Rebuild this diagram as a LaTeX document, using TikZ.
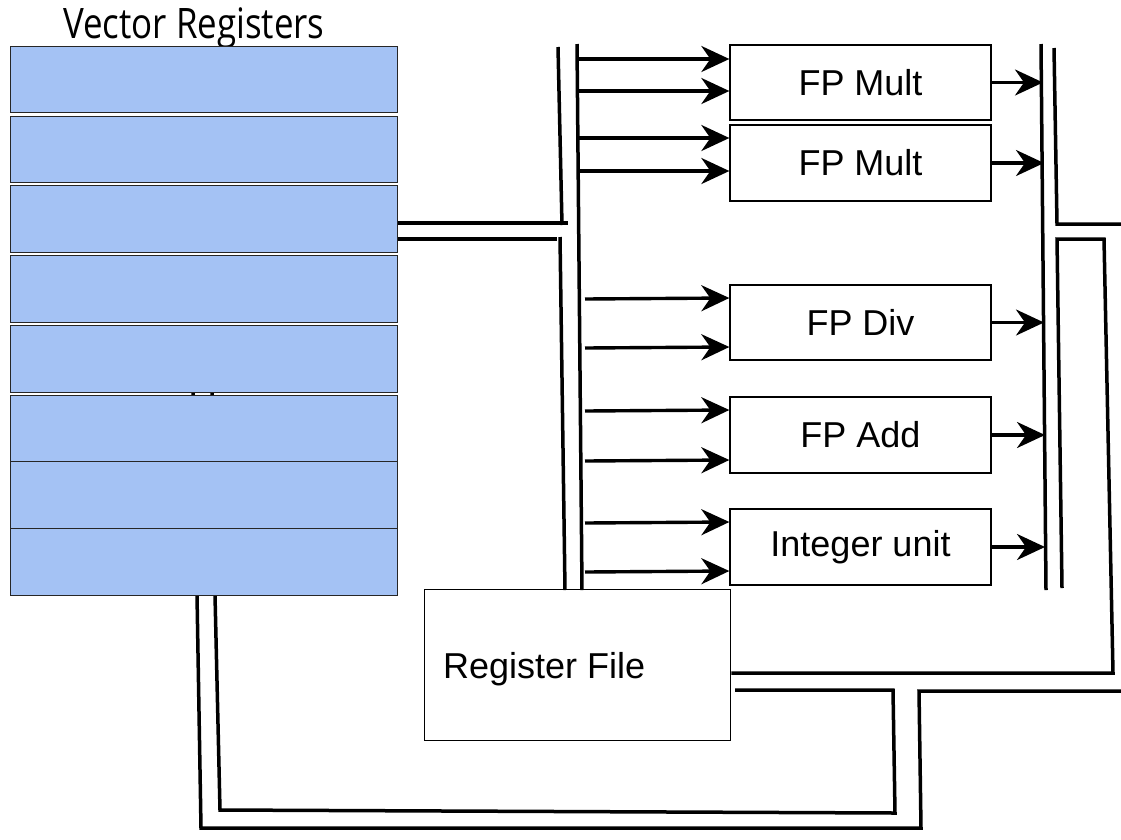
\documentclass[tikz,border=0pt]{standalone}
\usepackage{fontspec}
\usepackage{graphicx}
\setmainfont{Liberation Sans}
\newfontfamily\titlefont{Open Sans}
\usetikzlibrary{arrows.meta}
\definecolor{regblue}{HTML}{A4C2F4}
\tikzset{
  bus/.style={line width=3.5pt},
  reg/.style={draw=black!85, fill=regblue, line width=1.3pt, minimum width=387pt, anchor=north west, inner sep=0pt},
  unit/.style={draw, line width=1.3pt, minimum width=261pt, inner sep=0pt, font=\fontsize{36}{36}\selectfont},
  arr/.style={line width=3.4pt, -{Stealth[length=28pt,width=26pt,inset=9pt]}},
}
\begin{document}
\begin{tikzpicture}[x=1pt,y=-1pt]
\useasboundingbox[fill=white] (0,0) rectangle (1121,839);

% title
\node[anchor=base, inner sep=0pt] (title) at (194,38)
  {\scalebox{0.83}[1]{\titlefont\fontsize{42}{42}\selectfont Vector Registers}};

% lines from the bottom of the register stack (start hidden behind the rows)
\coordinate (vo) at (197,595);
\coordinate (vi) at (215,595);
\draw[bus] (193,390) -- (vo) -- (201,828) -- (921,828) -- (919,691) -- (1125,691);
\draw[bus] (212,390) -- (vi) -- (220,810) -- (895,813) -- (893,690) -- (735,690);

% vector register rows
\node[reg, minimum height=66pt] (r1) at (10,46) {};
\node[reg, minimum height=66pt] (r2) at (10,116) {};
\node[reg, minimum height=67pt] (r3) at (10,185) {};
\node[reg, minimum height=67pt] (r4) at (10,255) {};
\node[reg, minimum height=67pt] (r5) at (10,325) {};
\node[reg, minimum height=66pt] (r6) at (10,395) {};
\node[reg, minimum height=67pt] (r7) at (10,461) {};
\node[reg, minimum height=67pt] (r8) at (10,528) {};

% functional units
\node[unit, minimum height=75pt] (m1) at (860.5,82.5) {FP Mult};
\node[unit, minimum height=76pt] (m2) at (860.5,163) {FP Mult};
\node[unit, minimum height=75pt] (dv) at (860.5,322.5) {FP Div};
\node[unit, minimum height=76pt] (ad) at (860.5,435) {FP Add};
\node[unit, minimum height=76pt] (iu) at (860.5,547) {Integer unit};

% register file
\node[draw, line width=1.3pt, minimum width=306pt, minimum height=151pt, anchor=north west, inner sep=0pt] (rf) at (424,589) {};
\node[anchor=base west, inner sep=0pt, font=\fontsize{36}{36}\selectfont] (rflabel) at (443,678) {Register File};

% connection from the register stack to the input bus
\draw[bus] (r3.east |- 0,223) -- (568,223);
\draw[bus] (r3.east |- 0,239) -- (557,239);

% input bus
\draw[bus] (558,47) -- (562,225);
\draw[bus] (560,237) -- (565,590);
\draw[bus] (577,44) -- (582,590);

% operand arrows into the units
\draw[arr] (578,59) -- (m1.west |- 0,59);
\draw[arr] (578,91) -- (m1.west |- 0,91);
\draw[arr] (578,138) -- (m2.west |- 0,138);
\draw[arr] (578,171) -- (m2.west |- 0,171);
\draw[arr] (585,299) -- (dv.west |- 0,298);
\draw[arr] (585,348) -- (dv.west |- 0,347);
\draw[arr] (585,411) -- (ad.west |- 0,410);
\draw[arr] (585,461) -- (ad.west |- 0,460);
\draw[arr] (585,523) -- (iu.west |- 0,522);
\draw[arr] (585,572) -- (iu.west |- 0,571);

% result arrows onto the output bus
\draw[arr] (m1.east) -- (1043,0 |- m1.east);
\draw[arr] (m2.east) -- (1044,0 |- m2.east);
\draw[arr] (dv.east) -- (1044,0 |- dv.east);
\draw[arr] (ad.east) -- (1045,0 |- ad.east);
\draw[arr] (iu.east) -- (1045,0 |- iu.east);

% output bus
\draw[bus] (1041,44) -- (1046,590);
\draw[bus] (1054,48) -- (1057,224) -- (1125,224);
\draw[bus] (1062,588) -- (1057,239) -- (1104,239) -- (1113,673) -- (rf.east |- 0,673);
\end{tikzpicture}
\end{document}
